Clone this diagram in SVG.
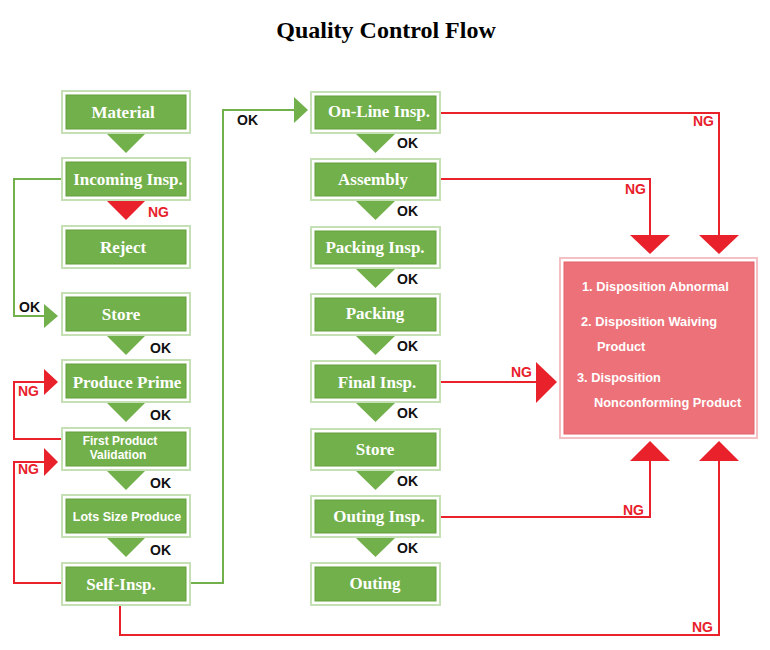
<svg xmlns="http://www.w3.org/2000/svg" width="770" height="650" viewBox="0 0 770 650">
<style>
.ob{fill:#fff;stroke:#c5e0b4;stroke-width:2}
.ib{fill:#72b04b;stroke:#64a03f;stroke-width:1}
.bt{font-family:"Liberation Serif",serif;font-weight:bold;font-size:17px;fill:#fff;text-anchor:middle}
.st{font-family:"Liberation Sans",Arial,sans-serif;font-weight:bold;font-size:12.5px;fill:#fff;text-anchor:middle}
.st2{font-family:"Liberation Sans",Arial,sans-serif;font-weight:bold;font-size:12px;fill:#fff;text-anchor:middle}
.gt{fill:#72b04b}
.rt{fill:#e8212b}
.gl{fill:none;stroke:#72b04b;stroke-width:2}
.rl{fill:none;stroke:#e8212b;stroke-width:2}
.ok{font-family:"Liberation Sans",Arial,sans-serif;font-weight:bold;font-size:14px;fill:#111}
.ng{font-family:"Liberation Sans",Arial,sans-serif;font-weight:bold;font-size:14px;fill:#e8212b}
.pt{font-family:"Liberation Sans",Arial,sans-serif;font-weight:bold;font-size:12.8px;fill:#fff}
</style>
<rect width="770" height="650" fill="#fff"/>
<text x="386" y="38" text-anchor="middle" font-family="Liberation Serif,serif" font-weight="bold" font-size="24" fill="#000">Quality Control Flow</text>

<g id="connectors">
  <polygon class="gt" points="106,133 146,133 126,153"/>
  <polygon class="rt" points="106,200 146,200 126,220"/>
  <polygon class="gt" points="106,335 146,335 126,355"/>
  <polygon class="gt" points="106,402 146,402 126,422"/>
  <polygon class="gt" points="106,470 146,470 126,490"/>
  <polygon class="gt" points="106,537 146,537 126,557"/>
  <text class="ng" x="148" y="217">NG</text>
  <text class="ok" x="150" y="353">OK</text>
  <text class="ok" x="150" y="420">OK</text>
  <text class="ok" x="150" y="488">OK</text>
  <text class="ok" x="150" y="555">OK</text>
  <polygon class="gt" points="355,133 396,133 375.5,153"/>
  <polygon class="gt" points="355,200 396,200 375.5,220"/>
  <polygon class="gt" points="355,268 396,268 375.5,288"/>
  <polygon class="gt" points="355,335 396,335 375.5,355"/>
  <polygon class="gt" points="355,402 396,402 375.5,422"/>
  <polygon class="gt" points="355,470 396,470 375.5,490"/>
  <polygon class="gt" points="355,537 396,537 375.5,557"/>
  <text class="ok" x="397" y="148">OK</text>
  <text class="ok" x="397" y="216">OK</text>
  <text class="ok" x="397" y="284">OK</text>
  <text class="ok" x="397" y="351">OK</text>
  <text class="ok" x="397" y="418">OK</text>
  <text class="ok" x="397" y="486">OK</text>
  <text class="ok" x="397" y="553">OK</text>
  <polyline class="gl" points="62,179 14,179 14,316 46,316"/>
  <polygon class="gt" points="44,304 58,316 44,328"/>
  <text class="ok" x="19" y="312">OK</text>
  <polyline class="gl" points="190,583 223,583 223,110 296,110"/>
  <polygon class="gt" points="294,97 308,110 294,123"/>
  <text class="ok" x="237" y="125">OK</text>
  <polyline class="rl" points="62,439 14,439 14,382 46,382"/>
  <polygon class="rt" points="44,369 58,382 44,395"/>
  <text class="ng" x="18" y="396">NG</text>
  <polyline class="rl" points="62,583 14,583 14,462 46,462"/>
  <polygon class="rt" points="44,448 58,462 44,476"/>
  <text class="ng" x="18" y="474">NG</text>
  <polyline class="rl" points="120,605 120,635 719,635 719,460"/>
  <polygon class="rt" points="699,461 739,461 719,441"/>
  <text class="ng" x="692" y="632">NG</text>
  <polyline class="rl" points="440,113 719,113 719,236"/>
  <polygon class="rt" points="699,235 739,235 719,254"/>
  <text class="ng" x="693" y="126">NG</text>
  <polyline class="rl" points="440,179 650,179 650,236"/>
  <polygon class="rt" points="630,235 670,235 650,254"/>
  <text class="ng" x="625" y="194">NG</text>
  <polyline class="rl" points="440,382 538,382"/>
  <polygon class="rt" points="536,362 557,382 536,403"/>
  <text class="ng" x="511" y="377">NG</text>
  <polyline class="rl" points="440,517 650,517 650,460"/>
  <polygon class="rt" points="630,461 670,461 650,441"/>
  <text class="ng" x="623" y="515">NG</text>
</g>

<g id="material"><rect class="ob" x="62" y="91" width="128" height="42"/><rect class="ib" x="66" y="95" width="120" height="34"/><text class="bt" x="123" y="118">Material</text></g>
<g id="incoming"><rect class="ob" x="62" y="158" width="128" height="42"/><rect class="ib" x="66" y="162" width="120" height="34"/><text class="bt" x="128" y="185">Incoming Insp.</text></g>
<g id="reject"><rect class="ob" x="62" y="226" width="128" height="42"/><rect class="ib" x="66" y="230" width="120" height="34"/><text class="bt" x="123" y="253">Reject</text></g>
<g id="store1"><rect class="ob" x="62" y="293" width="128" height="42"/><rect class="ib" x="66" y="297" width="120" height="34"/><text class="bt" x="121" y="320">Store</text></g>
<g id="produce-prime"><rect class="ob" x="62" y="360" width="128" height="42"/><rect class="ib" x="66" y="364" width="120" height="34"/><text class="bt" x="127" y="388">Produce Prime</text></g>
<g id="first-product"><rect class="ob" x="62" y="428" width="128" height="42"/><rect class="ib" x="66" y="432" width="120" height="34"/><text class="st2" x="120" y="445">First Product</text><text class="st2" x="118" y="459">Validation</text></g>
<g id="lots-size"><rect class="ob" x="62" y="495" width="128" height="42"/><rect class="ib" x="66" y="499" width="120" height="34"/><text class="st" x="127" y="521">Lots Size Produce</text></g>
<g id="self-insp"><rect class="ob" x="62" y="563" width="128" height="42"/><rect class="ib" x="66" y="567" width="120" height="34"/><text class="bt" x="121" y="590">Self-Insp.</text></g>

<g id="online-insp"><rect class="ob" x="311" y="92" width="129" height="41"/><rect class="ib" x="315" y="96" width="121" height="33"/><text class="bt" x="379" y="117">On-Line Insp.</text></g>
<g id="assembly"><rect class="ob" x="311" y="159" width="129" height="41"/><rect class="ib" x="315" y="163" width="121" height="33"/><text class="bt" x="373" y="185">Assembly</text></g>
<g id="packing-insp"><rect class="ob" x="311" y="227" width="129" height="41"/><rect class="ib" x="315" y="231" width="121" height="33"/><text class="bt" x="375" y="253">Packing Insp.</text></g>
<g id="packing"><rect class="ob" x="311" y="294" width="129" height="41"/><rect class="ib" x="315" y="298" width="121" height="33"/><text class="bt" x="375" y="319">Packing</text></g>
<g id="final-insp"><rect class="ob" x="311" y="361" width="129" height="41"/><rect class="ib" x="315" y="365" width="121" height="33"/><text class="bt" x="377" y="388">Final Insp.</text></g>
<g id="store2"><rect class="ob" x="311" y="429" width="129" height="41"/><rect class="ib" x="315" y="433" width="121" height="33"/><text class="bt" x="375" y="455">Store</text></g>
<g id="outing-insp"><rect class="ob" x="311" y="496" width="129" height="41"/><rect class="ib" x="315" y="500" width="121" height="33"/><text class="bt" x="379" y="522">Outing Insp.</text></g>
<g id="outing"><rect class="ob" x="311" y="563" width="129" height="42"/><rect class="ib" x="315" y="567" width="121" height="34"/><text class="bt" x="375" y="589">Outing</text></g>

<g id="disposition">
  <rect x="560" y="258" width="197" height="180" fill="#fff" stroke="#f4c0c3" stroke-width="2"/>
  <rect x="564" y="262" width="190" height="172" fill="#ec7178" stroke="#e2636b" stroke-width="1"/>
  <text class="pt" x="582" y="291">1. Disposition Abnormal</text>
  <text class="pt" x="581" y="326">2. Disposition Waiving</text>
  <text class="pt" x="597" y="351">Product</text>
  <text class="pt" x="577" y="382">3. Disposition</text>
  <text class="pt" x="594" y="407">Nonconforming Product</text>
</g>
</svg>
